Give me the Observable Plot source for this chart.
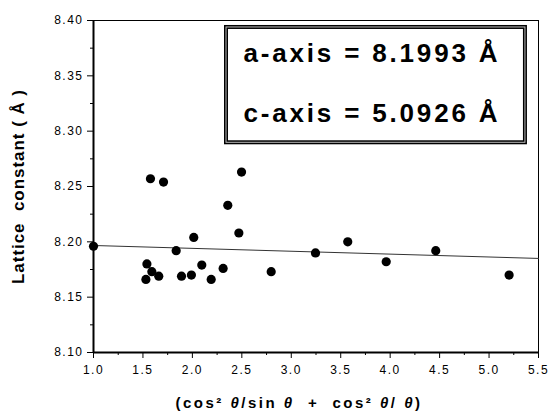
<!DOCTYPE html>
<html>
<head>
<meta charset="utf-8">
<script src="https://cdn.jsdelivr.net/npm/d3@7"></script>
<script src="https://cdn.jsdelivr.net/npm/@observablehq/plot@0.6"></script>
<style>
  html, body { margin: 0; padding: 0; background: #fff; }
</style>
</head>
<body>
<div id="chart"></div>
<script>
// Data
const xValues = [1.00, 1.53, 1.54, 1.59, 1.66, 1.576, 1.708, 1.836, 1.89, 1.99, 2.014, 2.095, 2.19, 2.311, 2.358, 2.47, 2.497, 2.797, 3.245, 3.571, 3.96, 4.461, 5.203];
const yValues = [8.196, 8.166, 8.180, 8.173, 8.169, 8.257, 8.254, 8.192, 8.169, 8.170, 8.204, 8.179, 8.166, 8.176, 8.233, 8.208, 8.263, 8.173, 8.190, 8.200, 8.182, 8.192, 8.170];
const fitX = [1.0, 5.5];
const fitY = [8.1967, 8.1850];
const xTicks = [1.0, 1.5, 2.0, 2.5, 3.0, 3.5, 4.0, 4.5, 5.0, 5.5];
const xMinorTicks = [1.25, 1.75, 2.25, 2.75, 3.25, 3.75, 4.25, 4.75, 5.25];
const yTicks = [8.10, 8.15, 8.20, 8.25, 8.30, 8.35, 8.40];
const yMinorTicks = [8.125, 8.175, 8.225, 8.275, 8.325, 8.375];
const insetLines = ["a-axis = 8.1993 Å", "c-axis = 5.0926 Å"];
const xLabel = "(cos² θ/sin θ  +  cos² θ/ θ)";
const yLabel = "Lattice  constant ( Å )";

const points = xValues.map((x, i) => ({x, y: yValues[i]}));
const fit = fitX.map((x, i) => ({x, y: fitY[i]}));
const FONT = "'Liberation Sans', Arial, Helvetica, sans-serif";

const chart = Plot.plot({
  width: 549,
  height: 413,
  marginLeft: 93,
  marginRight: 11,
  marginTop: 20,
  marginBottom: 61,
  style: {fontFamily: FONT, fontSize: "12px", color: "#000", background: "#fff", letterSpacing: "1.5px"},
  x: {domain: [1.0, 5.5]},
  y: {domain: [8.10, 8.40]},
  marks: [
    Plot.frame({stroke: "#000", strokeWidth: 1}),
    // inset box
    Plot.rect([{}], {x1: 2.345, x2: 5.368, y1: 8.2895, y2: 8.3937, fill: "#fff", stroke: "#000", strokeWidth: 4}),
    Plot.rect([{}], {x1: 2.345, x2: 5.368, y1: 8.2895, y2: 8.3937, fill: "none", stroke: "#bbb", strokeWidth: 1}),
    Plot.text([insetLines[0]], {x: 2.516, y: 8.3702, text: d => d, textAnchor: "start", fontSize: 26, fontWeight: "bold", fill: "#000"}),
    Plot.text([insetLines[1]], {x: 2.516, y: 8.3162, text: d => d, textAnchor: "start", fontSize: 26, fontWeight: "bold", fill: "#000"}),
    // fit line
    Plot.line(fit, {x: "x", y: "y", stroke: "#333", strokeWidth: 1}),
    // axes
    Plot.axisY(yTicks, {tickSize: 6, tickPadding: 4, tickFormat: ".2f", label: null, fontSize: 12}),
    Plot.axisY(yMinorTicks, {tickSize: 3, tickFormat: () => "", label: null}),
    Plot.axisX(xTicks, {tickSize: 6, tickPadding: 7, tickFormat: ".1f", label: null, fontSize: 12}),
    Plot.axisX(xMinorTicks, {tickSize: 3, tickFormat: () => "", label: null}),
    Plot.ruleX([1.0], {stroke: "#000", strokeWidth: 2}),
    Plot.ruleY([8.10], {stroke: "#000", strokeWidth: 2}),
    // data
    Plot.dot(points, {x: "x", y: "y", r: 4.6, fill: "#000", stroke: "none"}),
    // axis titles
    Plot.text([xLabel], {frameAnchor: "bottom", dy: 55, dx: -17, textAnchor: "middle", text: d => d, fontSize: 15, fontWeight: "bold", fill: "#000"}),
    Plot.text([yLabel], {frameAnchor: "left", dx: -75, rotate: -90, textAnchor: "middle", text: d => d, fontSize: 17, fontWeight: "bold", fill: "#000"})
  ]
});

document.getElementById("chart").appendChild(chart);

// widen the big texts with letter-spacing to match the reference's stretched lettering
function fitWidth(el, target) {
  el.style("letter-spacing", "0px");
  const natural = el.node().getComputedTextLength();
  const n = el.node().textContent.length;
  const ls = Math.max(0, (target - natural) / n);
  el.style("letter-spacing", ls + "px");
}
const svg = d3.select(chart);
svg.selectAll("text").each(function () {
  const t = this.textContent;
  const el = d3.select(this);
  if (t === insetLines[0] || t === insetLines[1]) {
    fitWidth(el, 257);
  } else if (t === yLabel) {
    fitWidth(el, 195);
  } else if (t === xLabel) {
    el.text(null);
    const parts = xLabel.split("θ");
    parts.forEach((p, i) => {
      el.append("tspan").text(p);
      if (i < parts.length - 1) el.append("tspan").attr("font-style", "italic").text("θ");
    });
    fitWidth(el, 247);
  }
});
</script>
</body>
</html>
